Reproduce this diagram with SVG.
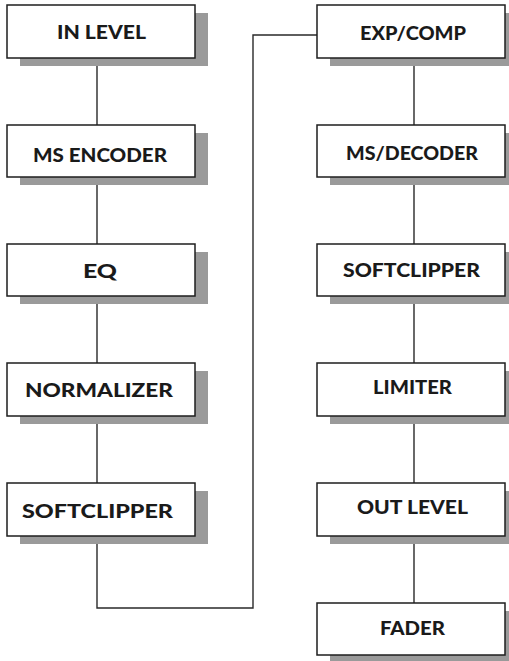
<svg xmlns="http://www.w3.org/2000/svg" width="509" height="661" viewBox="0 0 509 661">
<style>
.sh{fill:#9a9a9a}
.bx{fill:#fff;stroke:#1e1e1e;stroke-width:1.5}
.t{font-family:Lato,"Open Sans","DejaVu Sans",sans-serif;font-weight:900;font-size:18px;fill:#1a1a1a;text-anchor:middle}
.c{fill:none;stroke:#2a2a2a;stroke-width:1.4}
</style>
<rect width="509" height="661" fill="#fff"/>
<g id="connectors">
<path class="c" d="M97,58V125M97,177V244M97,296V363M97,416V483M97,536V608H253V35H317"/>
<path class="c" d="M414,58V125M414,177V244M414,296V363M414,416V483M414,536V603"/>
</g>
<g id="in-level"><rect class="sh" x="20" y="13" width="188" height="53"/><rect class="bx" x="7" y="5" width="188" height="53"/><text class="t" x="101.5" y="39" textLength="89" lengthAdjust="spacingAndGlyphs">IN LEVEL</text></g>
<g id="ms-encoder"><rect class="sh" x="20" y="133" width="188" height="52"/><rect class="bx" x="7" y="125" width="188" height="52"/><text class="t" x="100" y="162" textLength="134" lengthAdjust="spacingAndGlyphs">MS ENCODER</text></g>
<g id="eq"><rect class="sh" x="20" y="252" width="188" height="52"/><rect class="bx" x="7" y="244" width="188" height="52"/><text class="t" x="100" y="278" textLength="34" lengthAdjust="spacingAndGlyphs">EQ</text></g>
<g id="normalizer"><rect class="sh" x="20" y="371" width="188" height="53"/><rect class="bx" x="7" y="363" width="188" height="53"/><text class="t" x="99" y="397" textLength="148" lengthAdjust="spacingAndGlyphs">NORMALIZER</text></g>
<g id="softclipper-1"><rect class="sh" x="20" y="491" width="188" height="53"/><rect class="bx" x="7" y="483" width="188" height="53"/><text class="t" x="97.5" y="518" textLength="151" lengthAdjust="spacingAndGlyphs">SOFTCLIPPER</text></g>
<g id="exp-comp"><rect class="sh" x="330" y="13" width="188" height="53"/><rect class="bx" x="317" y="5" width="188" height="53"/><text class="t" x="413" y="40" textLength="106" lengthAdjust="spacingAndGlyphs">EXP/COMP</text></g>
<g id="ms-decoder"><rect class="sh" x="330" y="133" width="188" height="52"/><rect class="bx" x="317" y="125" width="188" height="52"/><text class="t" x="412" y="160" textLength="132" lengthAdjust="spacingAndGlyphs">MS/DECODER</text></g>
<g id="softclipper-2"><rect class="sh" x="330" y="252" width="188" height="52"/><rect class="bx" x="317" y="244" width="188" height="52"/><text class="t" x="411.5" y="277" textLength="137" lengthAdjust="spacingAndGlyphs">SOFTCLIPPER</text></g>
<g id="limiter"><rect class="sh" x="330" y="371" width="188" height="53"/><rect class="bx" x="317" y="363" width="188" height="53"/><text class="t" x="412.5" y="394" textLength="79" lengthAdjust="spacingAndGlyphs">LIMITER</text></g>
<g id="out-level"><rect class="sh" x="330" y="491" width="188" height="53"/><rect class="bx" x="317" y="483" width="188" height="53"/><text class="t" x="412.5" y="514" textLength="111" lengthAdjust="spacingAndGlyphs">OUT LEVEL</text></g>
<g id="fader"><rect class="sh" x="330" y="611" width="188" height="52"/><rect class="bx" x="317" y="603" width="188" height="52"/><text class="t" x="412.5" y="635" textLength="65" lengthAdjust="spacingAndGlyphs">FADER</text></g>
</svg>
